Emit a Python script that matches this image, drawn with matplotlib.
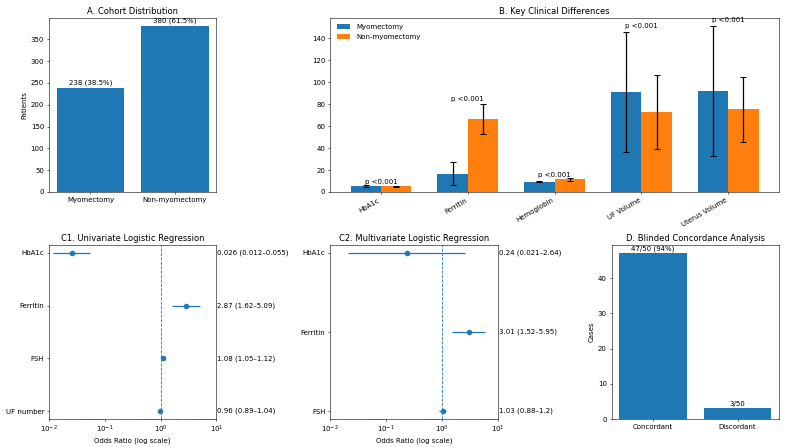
import matplotlib
matplotlib.use("Agg")
import matplotlib.pyplot as plt
import numpy as np

# Panel A
cohort_groups = ["Myomectomy", "Non-myomectomy"]
cohort_counts = [238, 380]
cohort_labels = ["238 (38.5%)", "380 (61.5%)"]

# Panel B
features = ["HbA1c", "Ferritin", "Hemoglobin", "UF Volume", "Uterus Volume"]
myo_mean = [5.5, 16.5, 9.5, 91, 92]
myo_sd = [0.7, 10.5, 0.5, 55, 59]
non_mean = [5.0, 66.5, 11.5, 73, 75.5]
non_sd = [0.5, 14, 1.2, 34, 29.5]
p_labels = ["p <0.001"] * 5

# Panel C1
uni_vars = ["HbA1c", "Ferritin", "FSH", "UF number"]
uni_or = [0.026, 2.87, 1.08, 0.96]
uni_lo = [0.012, 1.62, 1.05, 0.89]
uni_hi = [0.055, 5.09, 1.12, 1.04]
uni_text = ["0.026 (0.012–0.055)", "2.87 (1.62–5.09)", "1.08 (1.05–1.12)", "0.96 (0.89–1.04)"]

# Panel C2
multi_vars = ["HbA1c", "Ferritin", "FSH"]
multi_or = [0.24, 3.01, 1.03]
multi_lo = [0.021, 1.52, 0.88]
multi_hi = [2.64, 5.95, 1.2]
multi_text = ["0.24 (0.021–2.64)", "3.01 (1.52–5.95)", "1.03 (0.88–1.2)"]

# Panel D
conc_groups = ["Concordant", "Discordant"]
conc_counts = [47, 3]
conc_labels = ["47/50 (94%)", "3/50"]

fig = plt.figure(figsize=(15.76, 8.94), dpi=50)
gs = fig.add_gridspec(2, 3, left=0.0622, right=0.9886, top=0.9597, bottom=0.0626,
                      wspace=0.68, hspace=0.305)

# A
axA = fig.add_subplot(gs[0, 0])
axA.bar(cohort_groups, cohort_counts, color="C0")
for i, (v, t) in enumerate(zip(cohort_counts, cohort_labels)):
    axA.text(i, v + 5, t, ha="center", va="bottom")
axA.set_ylabel("Patients")
axA.set_title("A. Cohort Distribution")

# B
axB = fig.add_subplot(gs[0, 1:])
x = np.arange(len(features))
w = 0.35
ekw = dict(elinewidth=1.8, capthick=1.5)
axB.bar(x - w / 2, myo_mean, w, yerr=myo_sd, capsize=4, error_kw=ekw,
        label="Myomectomy", color="C0")
axB.bar(x + w / 2, non_mean, w, yerr=non_sd, capsize=4, error_kw=ekw,
        label="Non-myomectomy", color="C1")
for i in range(len(features)):
    top = max(myo_mean[i] + myo_sd[i], non_mean[i] + non_sd[i])
    axB.text(i, top * 1.02, p_labels[i], ha="center", va="bottom")
axB.set_xticks(x)
axB.set_xticklabels(features, rotation=30, ha="right")
axB.legend(loc="upper left", frameon=False)
axB.set_title("B. Key Clinical Differences")

# C1 / C2 forest plots
def forest(ax, names, ors, lo, hi, texts, title):
    y = np.arange(len(names))
    ax.axvline(1, linestyle="--", linewidth=1.2, color="C0")
    err = [np.array(ors) - np.array(lo), np.array(hi) - np.array(ors)]
    ax.errorbar(ors, y, xerr=err, fmt="o", color="C0", markersize=7, elinewidth=1.8)
    ax.set_xscale("log")
    ax.set_xlim(1e-2, 1e1)
    ax.set_yticks(y)
    ax.set_yticklabels(names)
    ax.invert_yaxis()
    tr = ax.get_yaxis_transform()
    for yi, t in zip(y, texts):
        ax.text(1.005, yi, t, transform=tr, ha="left", va="center")
    ax.set_xlabel("Odds Ratio (log scale)")
    ax.set_title(title)

axC1 = fig.add_subplot(gs[1, 0])
forest(axC1, uni_vars, uni_or, uni_lo, uni_hi, uni_text, "C1. Univariate Logistic Regression")
axC2 = fig.add_subplot(gs[1, 1])
forest(axC2, multi_vars, multi_or, multi_lo, multi_hi, multi_text, "C2. Multivariate Logistic Regression")

# D
axD = fig.add_subplot(gs[1, 2])
axD.bar(conc_groups, conc_counts, color="C0")
for i, (v, t) in enumerate(zip(conc_counts, conc_labels)):
    axD.text(i, v + 0.5, t, ha="center", va="bottom")
axD.set_ylabel("Cases")
axD.set_title("D. Blinded Concordance Analysis")

fig.savefig("out.png", dpi=50)
